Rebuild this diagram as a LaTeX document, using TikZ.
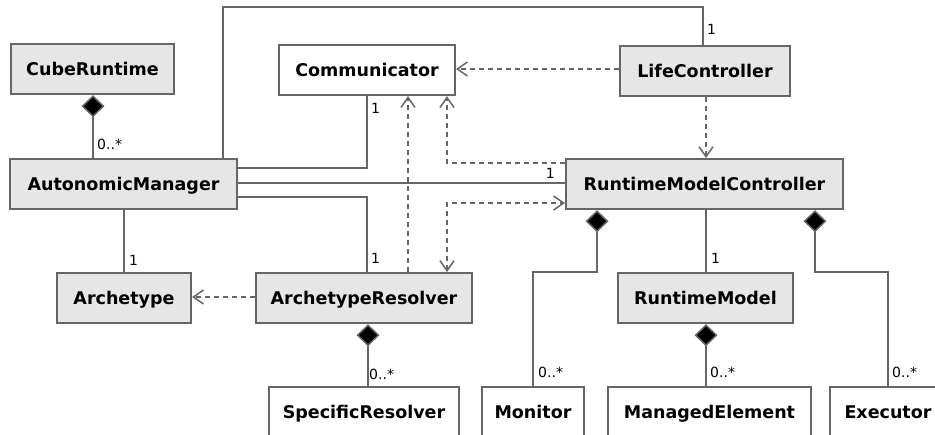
\documentclass[tikz,border=0pt]{standalone}
\usepackage{fontspec}
\setmainfont{DejaVu Sans}
\usetikzlibrary{arrows.meta}
\definecolor{boxfill}{RGB}{230,230,230}
\definecolor{linecol}{RGB}{102,102,102}
\tikzset{
  cls/.style={draw=linecol, line width=2.2pt, inner xsep=0pt, inner ysep=0pt,
    text height=31pt, text depth=19pt, anchor=north,
    font=\fontsize{17.5}{20}\selectfont\bfseries, text=black},
  clsg/.style={cls, fill=boxfill},
  clsw/.style={cls, fill=white},
  clsb/.style={text depth=25pt},
  assoc/.style={draw=linecol, line width=2pt},
  thinassoc/.style={draw=linecol, line width=1.2pt},
  comp/.style={draw=linecol, line width=2pt,
    {Diamond[length=22pt,width=23pt,fill=black,line width=1.5pt]}-},
  dep/.style={draw=linecol, line width=2pt, dash pattern=on 5pt off 4pt,
    -{Straight Barb[length=10pt,width=14pt,line width=1.5pt]}},
  depboth/.style={draw=linecol, line width=2pt, dash pattern=on 5pt off 4pt,
    {Straight Barb[length=10pt,width=14pt,line width=1.5pt]}-{Straight Barb[length=10pt,width=14pt,line width=1.5pt]}},
  mult/.style={font=\fontsize{14}{16}\selectfont, text=black, inner sep=0pt, anchor=west},
}
\begin{document}
\begin{tikzpicture}[x=1pt,y=-1pt]
\useasboundingbox (0,0) rectangle (935,435);
% classes
\node[clsg, minimum width=163pt] (CR) at (92.5,43) {CubeRuntime};
\node[clsg, minimum width=227pt] (AM) at (123.5,158) {AutonomicManager};
\node[clsw, minimum width=176pt] (CO) at (367,44) {Communicator};
\node[clsg, minimum width=170pt] (LC) at (705,45) {LifeController};
\node[clsg, minimum width=277pt] (RMC) at (704.5,158) {RuntimeModelController};
\node[clsg, minimum width=134pt] (AT) at (124,272) {Archetype};
\node[clsg, minimum width=216pt] (AR) at (364,272) {ArchetypeResolver};
\node[clsw, clsb, minimum width=190pt] (SR) at (364,386) {SpecificResolver};
\node[clsw, clsb, minimum width=102pt] (MO) at (533,386) {Monitor};
\node[clsg, minimum width=175pt] (RM) at (705.5,272) {RuntimeModel};
\node[clsw, clsb, minimum width=203pt] (ME) at (709.5,386) {ManagedElement};
\node[clsw, clsb, minimum width=116pt] (EX) at (888,386) {Executor};

% compositions
\draw[comp] (CR.south -| 93,0) -- (AM.north -| 93,0);
\draw[comp] (AR.south -| 368,0) -- (SR.north -| 368,0);
\draw[comp] (RM.south -| 706,0) -- (ME.north -| 706,0);
\draw[comp] (RMC.south -| 597,0) -- (597,272) -| (MO.north);
\draw[comp] (RMC.south -| 815,0) -- (815,272) -| (EX.north);

% associations
\draw[assoc] (AM.north -| 223,0) -- (223,7) -| (LC.north -| 703,0);
\draw[assoc] (AM.east |- 0,168) -| (CO.south);
\draw[thinassoc] (AM.east |- 0,183) -- (RMC.west |- 0,183);
\draw[assoc] (AM.east |- 0,197) -| (AR.north -| 367,0);
\draw[assoc] (AM.south -| 124,0) -- (AT.north);
\draw[assoc] (RMC.south -| 706,0) -- (RM.north -| 706,0);

% dependencies
\draw[dep] (LC.west |- 0,69) -- (CO.east |- 0,69);
\draw[dep] (LC.south -| 706,0) -- (RMC.north -| 706,0);
\draw[dep] (AR.west |- 0,297) -- (AT.east |- 0,297);
\draw[dep] (AR.north -| 408,0) -- (CO.south -| 408,0);
\draw[dep] (RMC.west |- 0,163) -| (CO.south -| 447,0);
\draw[depboth] (AR.north -| 447,0) |- (RMC.west |- 0,203);

% multiplicities
\node[mult] (m1) at (97,144) {0..*};
\node[mult] (m2) at (707,29) {1};
\node[mult] (m3) at (371,108) {1};
\node[mult, anchor=east] (m4) at (555,173) {1};
\node[mult] (m5) at (371,258) {1};
\node[mult] (m6) at (129,260) {1};
\node[mult] (m7) at (369,374) {0..*};
\node[mult] (m8) at (538,372) {0..*};
\node[mult] (m9) at (711,258) {1};
\node[mult] (m10) at (710,372) {0..*};
\node[mult] (m11) at (892,372) {0..*};
\end{tikzpicture}
\end{document}
